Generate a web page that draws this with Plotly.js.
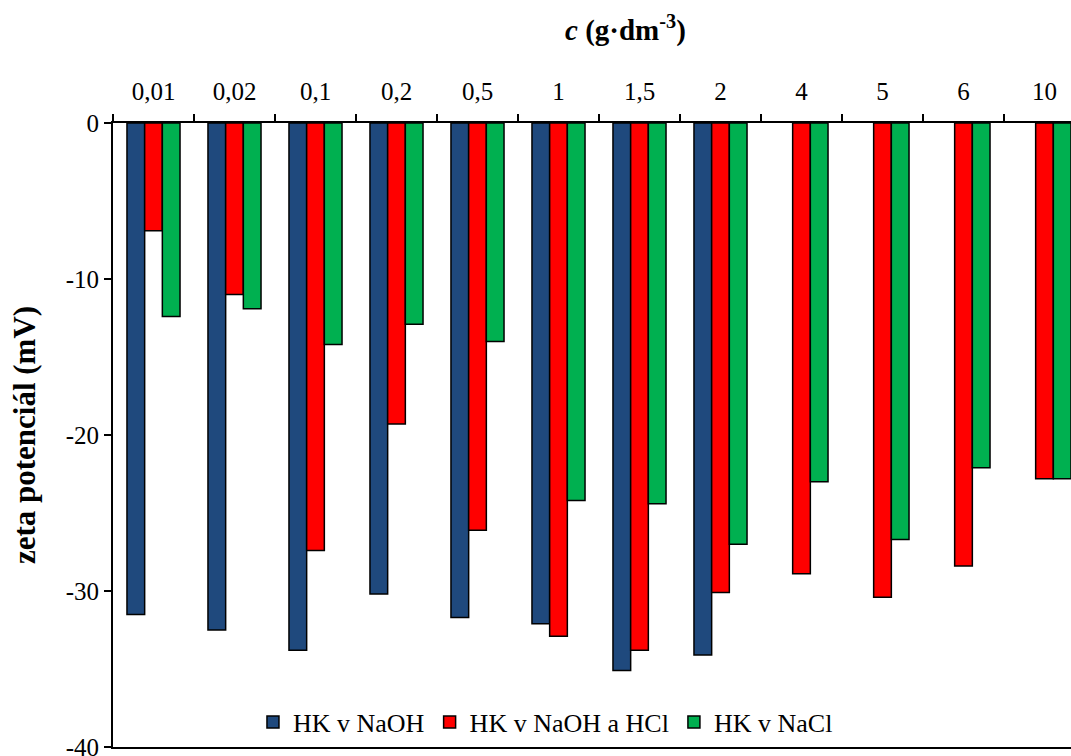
<!DOCTYPE html>
<html>
<head>
<meta charset="utf-8">
<script src="https://cdn.plot.ly/plotly-3.0.1.min.js"></script>
<style>
html, body { margin: 0; padding: 0; overflow: hidden; background: #fff; }
#chart { width: 1100px; height: 770px; }
</style>
</head>
<body>
<div id="chart"></div>
<script>
var categories = ["0,01", "0,02", "0,1", "0,2", "0,5", "1", "1,5", "2", "4", "5", "6", "10"];
var seriesNames = ["HK v NaOH", "HK v NaOH a HCl", "HK v NaCl"];
var hkNaOH = [-31.5, -32.5, -33.8, -30.2, -31.7, -32.1, -35.1, -34.1, null, null, null, null];
var hkNaOHHCl = [-6.9, -11.0, -27.4, -19.3, -26.1, -32.9, -33.8, -30.1, -28.9, -30.4, -28.4, -22.8];
var hkNaCl = [-12.4, -11.9, -14.2, -12.9, -14.0, -24.2, -24.4, -27.0, -23.0, -26.7, -22.1, -22.8];
var yTickVals = [0, -10, -20, -30, -40];
var yTickText = ["0", "-10", "-20", "-30", "-40"];
var colors = ["#1F497D", "#FF0000", "#00B050"];

var values = [hkNaOH, hkNaOHHCl, hkNaCl];
var traces = values.map(function (v, i) {
  return {
    type: "bar",
    name: seriesNames[i],
    x: categories,
    y: v,
    marker: { color: colors[i], line: { color: "#000", width: 1.5 } }
  };
});

var font = "'Liberation Serif', serif";
var layout = {
  width: 1100,
  height: 770,
  margin: { l: 113, r: 15, t: 123, b: 23 },
  paper_bgcolor: "#fff",
  plot_bgcolor: "#fff",
  font: { family: font, size: 25, color: "#000" },
  barmode: "group",
  bargap: 0.345,
  bargroupgap: 0,
  showlegend: true,
  legend: {
    orientation: "h",
    x: 0.144, y: 0.04, xanchor: "left", yanchor: "middle",
    bgcolor: "rgba(0,0,0,0)",
    font: { family: font, size: 26, color: "#000" },
    traceorder: "normal"
  },
  xaxis: {
    type: "category",
    side: "top",
    tickson: "boundaries",
    ticks: "outside",
    ticklen: 7,
    tickwidth: 1.5,
    tickcolor: "#000",
    showline: true,
    linecolor: "#000",
    linewidth: 2,
    mirror: true,
    showgrid: false,
    zeroline: false,
    ticklabelstandoff: 11,
    tickfont: { family: font, size: 25, color: "#000" },
    fixedrange: true
  },
  yaxis: {
    range: [-40, 0],
    tickmode: "array",
    tickvals: yTickVals,
    ticktext: yTickText,
    ticks: "outside",
    ticklen: 7,
    tickwidth: 1.5,
    tickcolor: "#000",
    showline: true,
    linecolor: "#000",
    linewidth: 2,
    showgrid: false,
    zeroline: false,
    tickfont: { family: font, size: 25, color: "#000" },
    title: { text: "<b>zeta potenciál (mV)</b>", font: { family: font, size: 31, color: "#000" }, standoff: 21 },
    fixedrange: true
  },
  annotations: [{
    xref: "paper", yref: "paper",
    x: 0.527, y: 1, yshift: 95,
    xanchor: "center", yanchor: "middle",
    showarrow: false,
    text: "<b><i>c</i> (g·dm<sup>-3</sup>)</b>",
    font: { family: font, size: 29, color: "#000" }
  }]
};

Plotly.newPlot("chart", traces, layout, { displayModeBar: false, staticPlot: true });
</script>
</body>
</html>
